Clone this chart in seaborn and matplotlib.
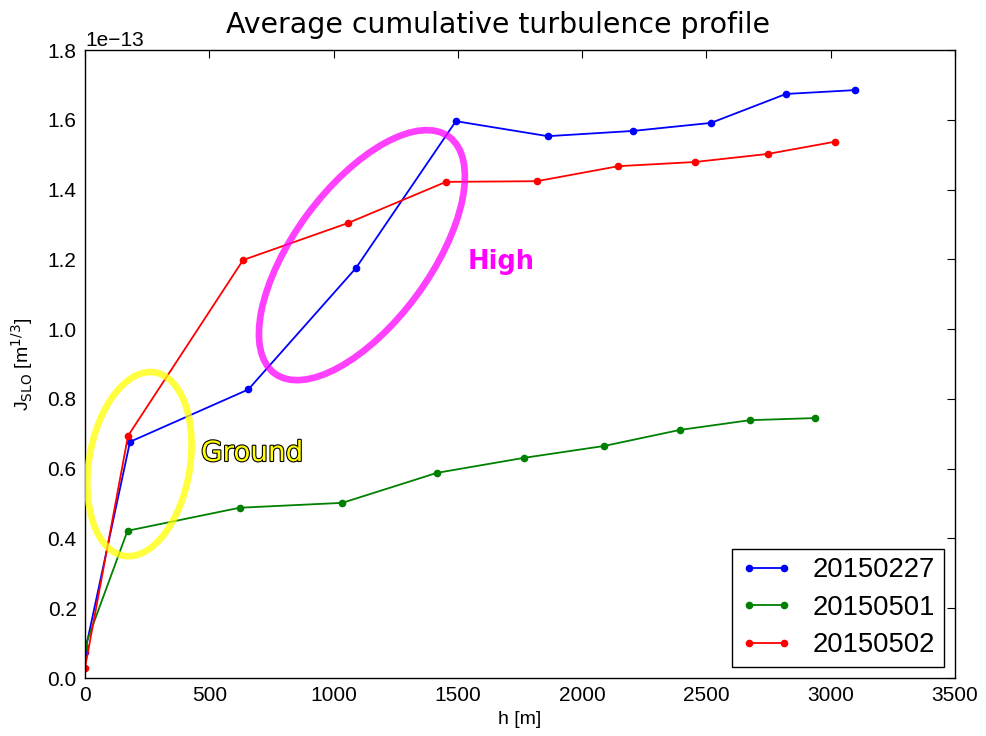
import numpy as np
import pandas as pd
import matplotlib
matplotlib.use("Agg")
import matplotlib.pyplot as plt
import matplotlib.patheffects as pe
from matplotlib.patches import Ellipse
from matplotlib.transforms import ScaledTranslation
import seaborn as sns

# ---- data (J in units of 1e-13 m^1/3) ----
dates = ["20150227", "20150501", "20150502"]
h_0227 = [0, 181, 657, 1090, 1492, 1862, 2204, 2518, 2820, 3097]
j_0227 = [0.075, 0.677, 0.827, 1.175, 1.596, 1.553, 1.568, 1.591, 1.674, 1.685]
h_0501 = [0, 171, 622, 1035, 1416, 1766, 2088, 2393, 2675, 2936]
j_0501 = [0.09, 0.422, 0.488, 0.502, 0.588, 0.631, 0.665, 0.711, 0.739, 0.745]
h_0502 = [0, 173, 636, 1058, 1452, 1818, 2146, 2454, 2746, 3016]
j_0502 = [0.029, 0.694, 1.198, 1.304, 1.422, 1.424, 1.467, 1.479, 1.502, 1.537]
colors = {"20150227": (0, 0, 1), "20150501": (0, 0.5, 0), "20150502": (1, 0, 0)}

frames = []
for d, h, j in zip(dates, [h_0227, h_0501, h_0502], [j_0227, j_0501, j_0502]):
    frames.append(pd.DataFrame({"h": h, "J": np.array(j) * 1e-13, "date": d}))
df = pd.concat(frames, ignore_index=True)

sns.set_theme(style="white")
plt.rcParams["font.family"] = ["Liberation Sans", "DejaVu Sans"]
plt.rcParams["mathtext.fontset"] = "dejavusans"
plt.rcParams["xtick.direction"] = "in"
plt.rcParams["ytick.direction"] = "in"
plt.rcParams["xtick.top"] = True
plt.rcParams["ytick.right"] = True
plt.rcParams["axes.edgecolor"] = "black"
plt.rcParams["axes.linewidth"] = 1.0
plt.rcParams["text.color"] = "black"
plt.rcParams["axes.labelcolor"] = "black"
plt.rcParams["xtick.color"] = "black"
plt.rcParams["ytick.color"] = "black"

fig = plt.figure(figsize=(9.86, 7.36), dpi=100)
ax = fig.add_axes([85 / 986, 1 - 678 / 736, (955 - 85) / 986, (678 - 50) / 736])

sns.lineplot(data=df, x="h", y="J", hue="date", hue_order=dates, palette=colors,
             marker="o", markersize=5.5, markeredgewidth=0, linewidth=1.3,
             sort=False, estimator=None, ax=ax, legend=False)

ax.set_xlim(0, 3500)
ax.set_ylim(0, 1.8e-13)
ax.set_xticks(np.arange(0, 3501, 500))
ax.set_yticks(np.arange(0, 1.81e-13, 0.2e-13))
ax.tick_params(axis="both", which="major", labelsize=15, length=6, width=0.8,
               color="black", labelcolor="black", pad=6)
ax.yaxis.get_offset_text().set_fontsize(15)
for s in ax.spines.values():
    s.set_visible(True)
    s.set_color("black")
    s.set_linewidth(1.0)

ax.set_xlabel("h [m]", fontsize=14, labelpad=4)
ax.set_ylabel(r"J$_{\mathrm{SLO}}$ [m$^{1/3}$]", fontsize=14, labelpad=9)
fig.text(0.505, 1 - 33 / 736, "Average cumulative turbulence profile",
         fontsize=20.4, fontfamily="DejaVu Sans", ha="center", va="baseline")

# annotation ellipses (sizes in inches on screen)
def screen_ellipse(xd, yd, w, hgt, ang, col):
    tr = fig.dpi_scale_trans + ScaledTranslation(xd, yd, ax.transData)
    e = Ellipse((0, 0), w, hgt, angle=ang, fill=False, edgecolor=col,
                linewidth=4.8, alpha=0.75, transform=tr, zorder=5)
    ax.add_patch(e)

screen_ellipse(219, 0.613e-13, 1.86, 1.01, 80.4, (1, 1, 0))
screen_ellipse(1114, 1.212e-13, 2.94, 1.36, 53.6, (1, 0, 1))

ax.text(467, 0.645e-13, "Ground", fontsize=20, color=(1, 1, 0), va="center",
        ha="left", fontfamily="DejaVu Sans",
        path_effects=[pe.withStroke(linewidth=1.6, foreground="black")], zorder=6)
ax.text(1540, 1.192e-13, "High", fontsize=18.5, color=(1, 0, 1), va="center",
        ha="left", fontfamily="DejaVu Sans", fontweight="bold", zorder=6)

leg = ax.legend(handles=ax.lines[:3], labels=dates, loc="lower right",
                fontsize=19.7, numpoints=2, handlelength=1.9, fancybox=False,
                frameon=True, borderaxespad=0.4, handletextpad=0.75,
                labelspacing=0.42, borderpad=0.32)
leg.get_frame().set_edgecolor("black")
leg.get_frame().set_linewidth(1.0)
leg.get_frame().set_alpha(1.0)
for t in leg.get_texts():
    t.set_color("black")

fig.savefig("out.png", dpi=100)
